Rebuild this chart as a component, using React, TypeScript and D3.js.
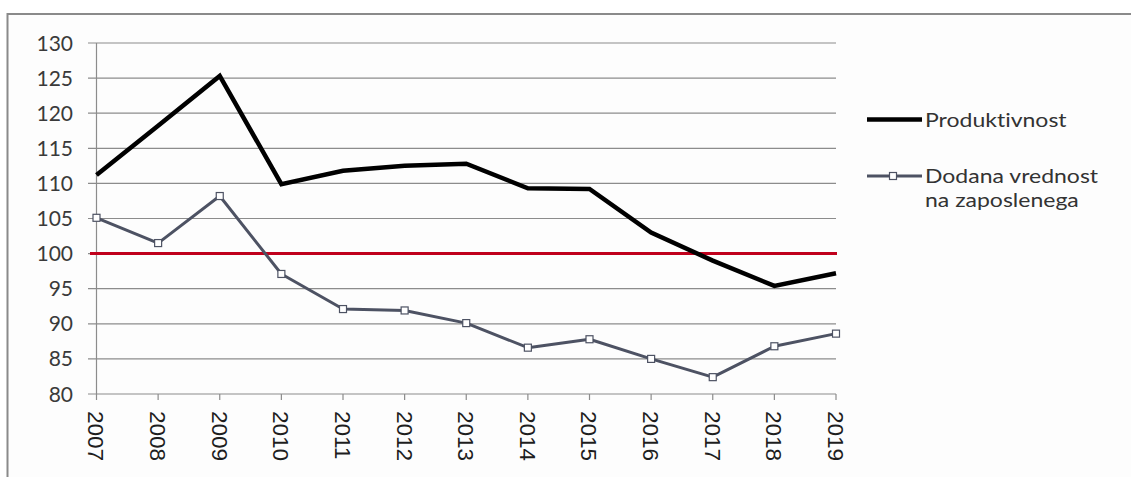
import React from "react";
import * as d3 from "d3";

const years = [2007, 2008, 2009, 2010, 2011, 2012, 2013, 2014, 2015, 2016, 2017, 2018, 2019];
const produktivnost = [111.2, 118.2, 125.3, 109.9, 111.8, 112.5, 112.8, 109.3, 109.2, 103.0, 99.0, 95.4, 97.2];
const dodanaVrednost = [105.1, 101.5, 108.2, 97.1, 92.1, 91.9, 90.1, 86.6, 87.8, 85.0, 82.4, 86.8, 88.6];
const yTicks = [80, 85, 90, 95, 100, 105, 110, 115, 120, 125, 130];
const referenceValue = 100;
const legendLabels = ["Produktivnost", "Dodana vrednost", "na zaposlenega"];

const W = 1131;
const H = 477;

export default function App() {
  const x = d3.scalePoint<number>().domain(years).range([96.5, 836]);
  const y = d3.scaleLinear().domain([80, 130]).range([394, 43]);
  const line = d3
    .line<number>()
    .x((_, i) => x(years[i]) as number)
    .y((d) => y(d));

  const gridLeft = 88;
  const gridRight = 836;
  const labelFont = "Lato, 'Open Sans', sans-serif";

  const legendText = (label: string, tx: number, ty: number) => (
    <text
      transform={`translate(${tx},${ty}) scale(1.15,1)`}
      fontFamily={labelFont}
      fontSize={20}
      fill="#333"
      style={{ fontVariantLigatures: "none" }}
    >
      {label}
    </text>
  );

  return (
    <svg
      width={W}
      height={H}
      style={{ position: "absolute", left: 0, top: 0, background: "#fff", fontVariantLigatures: "none" }}
    >
      {/* outer frame */}
      <rect x={7.5} y={14} width={W} height={H} fill="#fdfdfd" stroke="#8a8a8a" strokeWidth={2} />

      {/* gridlines */}
      {yTicks.map((t) => (
        <line
          key={t}
          x1={gridLeft}
          x2={gridRight}
          y1={y(t)}
          y2={y(t)}
          stroke="#8c8c8c"
          strokeWidth={1.2}
        />
      ))}
      {/* y axis */}
      <line x1={96.5} x2={96.5} y1={y(130)} y2={y(80)} stroke="#8c8c8c" strokeWidth={1.2} />
      {/* x ticks */}
      {years.map((yr) => (
        <line
          key={yr}
          x1={x(yr)}
          x2={x(yr)}
          y1={y(80)}
          y2={y(80) + 6}
          stroke="#8c8c8c"
          strokeWidth={1.2}
        />
      ))}

      {/* y labels */}
      {yTicks.map((t) => (
        <text
          key={t}
          x={73}
          y={y(t)}
          dy="0.36em"
          textAnchor="end"
          fontFamily={labelFont}
          fontSize={21}
          fill="#3a3a3a"
        >
          {t}
        </text>
      ))}

      {/* x labels */}
      {years.map((yr) => (
        <text
          key={yr}
          transform={`translate(${x(yr)},${411}) rotate(90)`}
          dy="0.36em"
          textAnchor="start"
          fontFamily="'Liberation Sans', Arial, sans-serif"
          fontSize={22.5}
          fill="#1e1e1e"
        >
          {yr}
        </text>
      ))}

      {/* reference line at 100 */}
      <line
        x1={90}
        x2={837}
        y1={y(referenceValue)}
        y2={y(referenceValue)}
        stroke="#c0001c"
        strokeWidth={3}
      />

      {/* Dodana vrednost */}
      <path d={line(dodanaVrednost) || ""} fill="none" stroke="#4d5263" strokeWidth={3} strokeLinejoin="round" />
      {dodanaVrednost.map((v, i) => (
        <rect
          key={i}
          x={(x(years[i]) as number) - 3.5}
          y={y(v) - 3.5}
          width={7}
          height={7}
          fill="#fff"
          stroke="#4d5263"
          strokeWidth={1.2}
        />
      ))}

      {/* Produktivnost */}
      <path d={line(produktivnost) || ""} fill="none" stroke="#000" strokeWidth={4.5} strokeLinejoin="miter" />

      {/* legend */}
      <line x1={867} x2={922} y1={119.5} y2={119.5} stroke="#000" strokeWidth={4.5} />
      {legendText(legendLabels[0], 925, 127)}
      <line x1={867} x2={922} y1={176} y2={176} stroke="#4d5263" strokeWidth={3} />
      <rect x={889.5} y={172.5} width={7} height={7} fill="#fff" stroke="#4d5263" strokeWidth={1.2} />
      {legendText(legendLabels[1], 925, 182.5)}
      {legendText(legendLabels[2], 925, 207)}
    </svg>
  );
}
